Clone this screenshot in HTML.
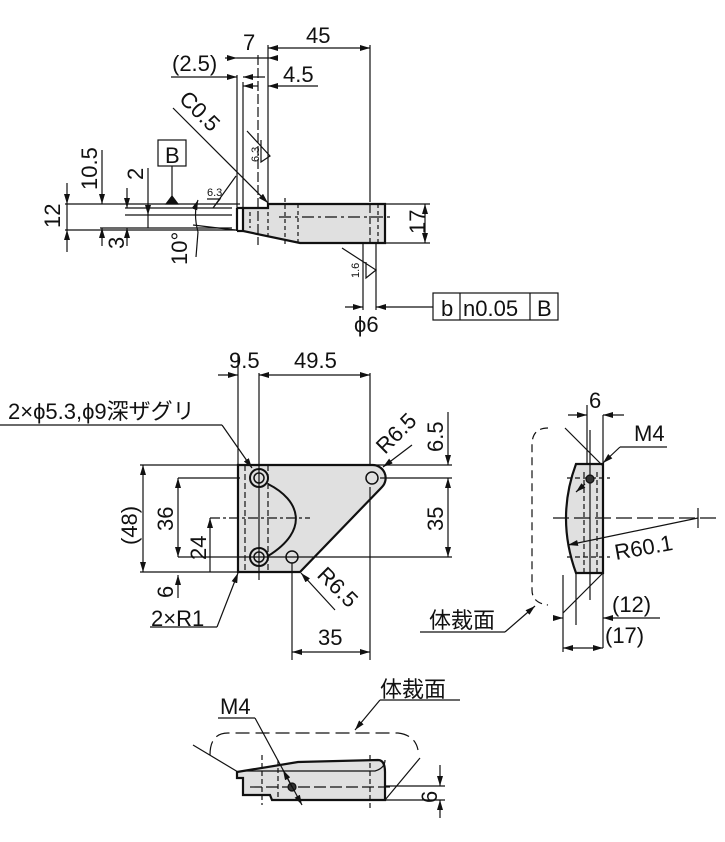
<!DOCTYPE html>
<html><head><meta charset="utf-8"><style>
html,body{margin:0;padding:0;background:#fff}
svg{display:block}
text{font-family:"Liberation Sans Narrow","Liberation Sans","Noto Sans CJK JP",sans-serif;fill:#111}
</style></head><body>
<svg width="725" height="842" viewBox="0 0 725 842" xmlns="http://www.w3.org/2000/svg">
<defs>
<marker id="a" viewBox="0 0 10 6" refX="10" refY="3" markerWidth="10" markerHeight="6" orient="auto-start-reverse" markerUnits="userSpaceOnUse"><path d="M0,0L10,3L0,6z" fill="#111"/></marker>
</defs>
<g stroke="#111" stroke-width="1.2" fill="none">
<!-- TOP VIEW -->
<polygon points="243,208 268,208 268,204 385,204 385,243 300,243 243,231" fill="#e0e0e0" stroke-width="2.2"/>
<line x1="237" y1="208" x2="237" y2="231" stroke-width="2.2"/>
<line x1="237" y1="208" x2="243" y2="208" stroke-width="2.2"/>
<line x1="237" y1="231" x2="243" y2="231" stroke-width="2.2"/>
<line x1="250" y1="212" x2="250" y2="228" stroke-dasharray="4,3"/>
<line x1="268" y1="212" x2="268" y2="240" stroke-dasharray="4,3"/>
<line x1="285" y1="198" x2="285" y2="245" stroke-dasharray="4,3"/>
<line x1="298" y1="204" x2="298" y2="243" stroke-dasharray="4,3"/>
<line x1="279" y1="217" x2="390" y2="217" stroke-dasharray="12,4,3,4"/>
<line x1="370" y1="194" x2="370" y2="243" stroke-dasharray="8,3"/>
<line x1="378" y1="204" x2="378" y2="243" stroke-dasharray="4,3"/>
<line x1="237" y1="75" x2="237" y2="208"/>
<line x1="243" y1="82" x2="243" y2="208"/>
<line x1="258" y1="55" x2="258" y2="245" stroke-dasharray="10,3"/>
<line x1="268" y1="45" x2="268" y2="204"/>
<line x1="370" y1="45" x2="370" y2="194"/>
<line x1="65" y1="204" x2="240" y2="204"/>
<line x1="65" y1="230" x2="237" y2="230"/>
<line x1="125" y1="208" x2="232" y2="208"/>
<line x1="125" y1="215" x2="232" y2="215"/>
<line x1="100" y1="228" x2="232" y2="228"/>
<line x1="268" y1="48" x2="370" y2="48" marker-start="url(#a)" marker-end="url(#a)"/>
<line x1="225" y1="58" x2="237" y2="58" marker-end="url(#a)"/>
<line x1="268" y1="58" x2="278" y2="58" marker-start="url(#a)"/>
<line x1="237" y1="58" x2="268" y2="58"/>
<line x1="171" y1="77" x2="237" y2="77" marker-end="url(#a)"/>
<line x1="243" y1="77" x2="265" y2="77" marker-start="url(#a)"/>
<line x1="243" y1="86" x2="258" y2="86" marker-start="url(#a)"/>
<line x1="268" y1="86" x2="318" y2="86" marker-start="url(#a)"/>
<line x1="173" y1="108" x2="268" y2="203" marker-end="url(#a)"/>
<line x1="385" y1="243" x2="430" y2="243"/>
<line x1="385" y1="204" x2="430" y2="204"/>
<line x1="425" y1="204" x2="425" y2="243" marker-start="url(#a)" marker-end="url(#a)"/>
<line x1="67" y1="183" x2="67" y2="204" marker-end="url(#a)"/>
<line x1="67" y1="230" x2="67" y2="252" marker-start="url(#a)"/>
<line x1="67" y1="204" x2="67" y2="230"/>
<line x1="102" y1="150" x2="102" y2="204" marker-end="url(#a)"/>
<line x1="102" y1="228" x2="102" y2="246" marker-start="url(#a)"/>
<line x1="127" y1="188" x2="127" y2="208" marker-end="url(#a)"/>
<line x1="127" y1="228" x2="127" y2="246" marker-start="url(#a)"/>
<line x1="148" y1="168" x2="148" y2="215" marker-end="url(#a)"/>
<line x1="148" y1="215" x2="148" y2="228" />
<rect x="158" y="140" width="28" height="26" />
<line x1="172" y1="166" x2="172" y2="198"/>
<path d="M166,204L178,204L172,196z" fill="#111"/>
<line x1="193" y1="225" x2="235" y2="230"/>
<path d="M198,200 Q193,213 198,232" marker-start="url(#a)"/>
<line x1="198" y1="232" x2="196" y2="257"/>
<path d="M207,199L220,199L213,208L236,176"/>
<path d="M247,131L270,156L261,162L261,140"/>
<path d="M342,248L376,270L366,278L366,262"/>
<line x1="363" y1="243" x2="363" y2="310"/>
<line x1="376" y1="243" x2="376" y2="310"/>
<line x1="345" y1="307" x2="363" y2="307" marker-end="url(#a)"/>
<line x1="376" y1="307" x2="433" y2="307" marker-start="url(#a)"/>
<rect x="433" y="293" width="125" height="27"/>
<line x1="460" y1="293" x2="460" y2="320"/>
<line x1="530" y1="293" x2="530" y2="320"/>

<!-- MIDDLE VIEW -->
<path d="M238,465 L372,465 A13,13 0 0 1 382,487 L300,572 L238,572 Z" fill="#e0e0e0" stroke-width="2.2"/>
<path d="M268,484 C300,500 310,530 268,556" stroke-width="2"/>
<line x1="245" y1="465" x2="245" y2="572" stroke-dasharray="6,3"/>
<line x1="268" y1="465" x2="268" y2="572" stroke-dasharray="6,3"/>
<circle cx="259" cy="478" r="9" fill="#e0e0e0" stroke-width="2"/>
<circle cx="259" cy="478" r="5" stroke-width="1.5"/>
<circle cx="259" cy="557" r="9" fill="#e0e0e0" stroke-width="2"/>
<circle cx="259" cy="557" r="5" stroke-width="1.5"/>
<circle cx="292" cy="557" r="6" stroke-width="1.5"/>
<circle cx="372" cy="478" r="6" stroke-width="1.5"/>
<line x1="259" y1="373" x2="259" y2="580"/>
<line x1="238" y1="355" x2="238" y2="465"/>
<line x1="370" y1="373" x2="370" y2="465"/>
<line x1="218" y1="375" x2="238" y2="375" marker-end="url(#a)"/>
<line x1="259" y1="375" x2="370" y2="375" marker-start="url(#a)" marker-end="url(#a)"/>
<line x1="0" y1="425" x2="222" y2="425"/>
<line x1="222" y1="425" x2="252" y2="468" marker-end="url(#a)"/>
<line x1="412" y1="445" x2="383" y2="467" marker-end="url(#a)"/>
<line x1="370" y1="465" x2="452" y2="465"/>
<line x1="380" y1="478" x2="452" y2="478"/>
<line x1="178" y1="557" x2="452" y2="557"/>
<line x1="178" y1="478" x2="240" y2="478"/>
<line x1="210" y1="518" x2="310" y2="518" stroke-dasharray="10,3,3,3"/>
<line x1="140" y1="465" x2="238" y2="465"/>
<line x1="140" y1="572" x2="238" y2="572"/>
<line x1="448" y1="412" x2="448" y2="465" marker-end="url(#a)"/>
<line x1="448" y1="478" x2="448" y2="557" marker-start="url(#a)" marker-end="url(#a)"/>
<line x1="143" y1="465" x2="143" y2="572" marker-start="url(#a)" marker-end="url(#a)"/>
<line x1="178" y1="478" x2="178" y2="557" marker-start="url(#a)" marker-end="url(#a)"/>
<line x1="210" y1="518" x2="210" y2="572" marker-start="url(#a)"/>
<line x1="178" y1="575" x2="178" y2="598" marker-start="url(#a)"/>
<line x1="150" y1="627" x2="217" y2="627"/>
<line x1="217" y1="627" x2="238" y2="573" marker-end="url(#a)"/>
<line x1="335" y1="610" x2="301" y2="573" marker-end="url(#a)"/>
<line x1="292" y1="563" x2="292" y2="660"/>
<line x1="370" y1="487" x2="370" y2="660"/>
<line x1="292" y1="652" x2="370" y2="652" marker-start="url(#a)" marker-end="url(#a)"/>

<!-- RIGHT VIEW -->
<path d="M576,464 L603,464 L603,573 L576,573 Q556,518 576,464 Z" fill="#e0e0e0" stroke-width="2.2"/>
<line x1="590" y1="430" x2="590" y2="600"/>
<line x1="597" y1="472" x2="597" y2="573" stroke-dasharray="5,3"/>
<line x1="584" y1="472" x2="584" y2="573" stroke-dasharray="5,3"/>
<line x1="567" y1="478" x2="610" y2="478" stroke-dasharray="5,3"/>
<line x1="567" y1="557" x2="610" y2="557" stroke-dasharray="5,3"/>
<circle cx="590" cy="479" r="4" fill="#333"/>
<line x1="553" y1="518" x2="720" y2="518" stroke-dasharray="16,5"/>
<line x1="698" y1="508" x2="698" y2="528"/>
<line x1="603" y1="415" x2="603" y2="648"/>
<line x1="587" y1="405" x2="587" y2="464"/>
<line x1="568" y1="415" x2="587" y2="415" marker-end="url(#a)"/>
<line x1="603" y1="415" x2="624" y2="415" marker-start="url(#a)"/>
<line x1="620" y1="447" x2="667" y2="447"/>
<line x1="620" y1="447" x2="603" y2="463" marker-end="url(#a)"/>
<line x1="585" y1="484" x2="576" y2="492" marker-end="url(#a)"/>
<line x1="698" y1="518" x2="568" y2="545" marker-end="url(#a)"/>
<line x1="565" y1="428" x2="603" y2="466"/>
<line x1="603" y1="573" x2="563" y2="613"/>
<path d="M548,428 Q532,428 532,445 L532,590 Q532,603 548,605" stroke-dasharray="8,5"/>
<line x1="563" y1="575" x2="563" y2="652"/>
<line x1="576" y1="573" x2="576" y2="625"/>
<line x1="555" y1="618" x2="563" y2="618" marker-end="url(#a)"/>
<line x1="603" y1="618" x2="660" y2="618" marker-start="url(#a)"/>
<line x1="563" y1="648" x2="603" y2="648" marker-start="url(#a)" marker-end="url(#a)"/>
<line x1="420" y1="632" x2="505" y2="632"/>
<line x1="505" y1="632" x2="535" y2="606" marker-end="url(#a)"/>

<!-- BOTTOM VIEW -->
<path d="M237,772 L298,762 L378,760 Q385,760 385,772 L385,800 L272,800 L270,795 L243,795 L243,778 L237,778 Z" fill="#e0e0e0" stroke-width="2.2"/>
<path d="M298,771 L375,771 Q385,768 385,760" />
<line x1="243" y1="771" x2="298" y2="771"/>
<line x1="262" y1="755" x2="262" y2="805" stroke-dasharray="5,3"/>
<line x1="278" y1="760" x2="278" y2="800" stroke-dasharray="5,3"/>
<line x1="370" y1="755" x2="370" y2="808" stroke-dasharray="5,3"/>
<line x1="250" y1="787" x2="390" y2="787" stroke-dasharray="12,4"/>
<circle cx="292" cy="787" r="4" fill="#333"/>
<line x1="218" y1="718" x2="255" y2="718"/>
<line x1="255" y1="718" x2="302" y2="805" marker-end="url(#a)"/>
<line x1="292" y1="787" x2="283" y2="770" marker-end="url(#a)"/>
<line x1="193" y1="745" x2="238" y2="772"/>
<line x1="385" y1="800" x2="420" y2="758"/>
<path d="M210,755 Q210,733 228,733 L398,733 Q415,735 418,750" stroke-dasharray="14,6"/>
<line x1="380" y1="700" x2="460" y2="700"/>
<line x1="380" y1="700" x2="355" y2="730" marker-end="url(#a)"/>
<line x1="385" y1="786" x2="445" y2="786"/>
<line x1="385" y1="800" x2="445" y2="800"/>
<line x1="440" y1="765" x2="440" y2="786" marker-end="url(#a)"/>
<line x1="440" y1="800" x2="440" y2="818" marker-start="url(#a)"/>
</g>
<g font-size="22">
<text x="306" y="43">45</text>
<text x="243" y="50">7</text>
<text x="172" y="71">(2.5)</text>
<text x="283" y="82">4.5</text>
<text x="0" y="0" transform="translate(178,100) rotate(45)">C0.5</text>
<text x="165" y="163">B</text>
<text x="0" y="0" transform="translate(425,234) rotate(-90)">17</text>
<text x="0" y="0" transform="translate(60,228) rotate(-90)">12</text>
<text x="0" y="0" transform="translate(97,190) rotate(-90)">10.5</text>
<text x="0" y="0" transform="translate(124,249) rotate(-90)">3</text>
<text x="0" y="0" transform="translate(143,180) rotate(-90)">2</text>
<text x="0" y="0" transform="translate(187,265) rotate(-90)">10°</text>
<text x="354" y="332">ϕ6</text>
<text x="441" y="316">b</text>
<text x="463" y="316">n0.05</text>
<text x="537" y="316">B</text>
<text x="229" y="368">9.5</text>
<text x="294" y="368">49.5</text>
<text x="8" y="419">2×ϕ5.3,ϕ9深ザグリ</text>
<text x="0" y="0" transform="translate(385,455) rotate(-45)">R6.5</text>
<text x="0" y="0" transform="translate(443,452) rotate(-90)">6.5</text>
<text x="0" y="0" transform="translate(443,531) rotate(-90)">35</text>
<text x="0" y="0" transform="translate(137,545) rotate(-90)">(48)</text>
<text x="0" y="0" transform="translate(173,531) rotate(-90)">36</text>
<text x="0" y="0" transform="translate(206,560) rotate(-90)">24</text>
<text x="0" y="0" transform="translate(173,598) rotate(-90)">6</text>
<text x="151" y="626">2×R1</text>
<text x="0" y="0" transform="translate(316,576) rotate(45)">R6.5</text>
<text x="318" y="645">35</text>
<text x="589" y="408">6</text>
<text x="634" y="441">M4</text>
<text x="0" y="0" transform="translate(616,560) rotate(-10)">R60.1</text>
<text x="612" y="612">(12)</text>
<text x="605" y="643">(17)</text>
<text x="429" y="628">体裁面</text>
<text x="220" y="714">M4</text>
<text x="380" y="697">体裁面</text>
<text x="0" y="0" transform="translate(437,803) rotate(-90)">6</text>
</g>
<g font-size="11">
<text x="207" y="196">6.3</text>
<text x="0" y="0" transform="translate(259,162) rotate(-90)">6.3</text>
<text x="0" y="0" transform="translate(359,278) rotate(-90)">1.6</text>
</g>
</svg>
</body></html>
